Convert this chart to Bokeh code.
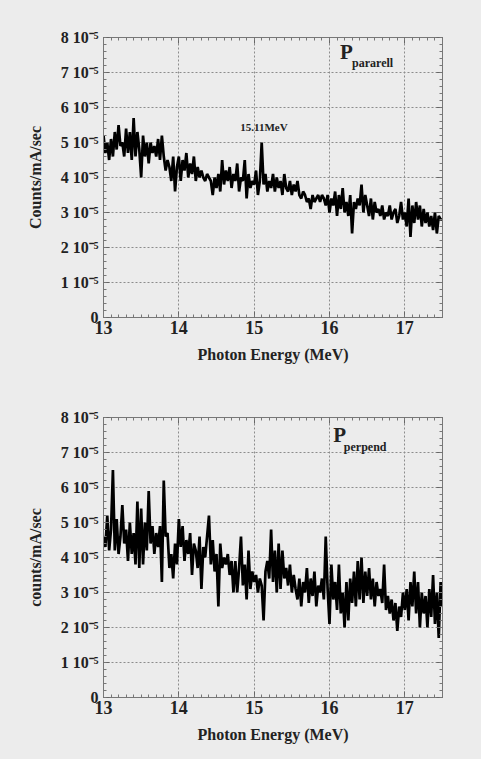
import numpy as np
from bokeh.plotting import figure
from bokeh.layouts import column
from bokeh.models import (Range1d, FixedTicker, LinearAxis, Label, ColumnDataSource,
                          CustomJSTickFormatter)
from bokeh.embed import file_html
from bokeh.resources import INLINE

# Photon energy bins (MeV), 0.025 MeV steps from 13.0 to 17.5
energy = np.round(13.0 + 0.025 * np.arange(181), 3)

# Counts/mA/sec in units of 1e-5
p_parallel = [
    5.2, 4.7, 5.0, 4.5, 5.1, 4.6, 5.3, 4.8, 5.5, 4.9,
    5.0, 4.6, 5.4, 4.7, 5.3, 4.5, 5.7, 4.6, 5.3, 4.8,
    4.0, 5.2, 4.6, 5.0, 4.4, 5.0, 4.7, 4.9, 4.6, 5.1,
    4.5, 5.2, 4.6, 4.2, 4.5, 4.3, 3.9, 4.6, 3.6, 4.3,
    4.6, 3.9, 4.5, 4.2, 4.7, 4.0, 4.4, 4.1, 4.6, 3.9,
    4.3, 4.0, 4.2, 4.0, 3.9, 4.1, 4.0, 3.9, 3.5, 4.0,
    3.7, 4.1, 3.6, 4.5, 3.8, 4.2, 3.9, 4.3, 3.7, 4.1,
    3.9, 4.4, 3.6, 4.0, 3.9, 4.5, 3.4, 4.1, 3.7, 3.9,
    3.8, 4.2, 3.5, 3.9, 5.0, 3.8, 4.1, 3.6, 3.9, 3.7,
    4.1, 3.6, 4.0, 3.7, 3.9, 3.5, 4.1, 3.7, 3.6, 3.9,
    3.5, 3.8, 3.6, 3.9, 3.5, 3.4, 3.6, 3.5, 3.3, 3.4,
    3.1, 3.5, 3.3, 3.4, 3.5, 3.3, 3.5, 3.4, 3.2, 3.5,
    3.0, 3.4, 3.2, 3.6, 2.9, 3.5, 3.1, 3.7, 3.0, 3.3,
    2.9, 3.5, 2.4, 3.3, 3.1, 3.4, 3.2, 3.8, 3.0, 3.5,
    3.2, 2.9, 3.4, 2.8, 3.3, 3.0, 3.1, 2.9, 3.2, 2.8,
    3.0, 2.9, 3.2, 2.8, 3.0, 3.1, 2.7, 2.9, 3.3, 2.8,
    3.0, 2.6, 3.4, 2.3, 3.2, 2.7, 3.3, 2.8, 3.2, 2.6,
    3.1, 2.7, 3.0, 2.6, 2.9, 2.5, 3.0, 2.4, 2.9, 2.8,
    2.8,
]

p_perpend = [
    4.6, 4.3, 5.2, 4.2, 4.8, 6.5, 4.2, 5.1, 4.1, 4.6,
    5.5, 4.4, 4.8, 3.9, 5.0, 4.1, 4.7, 3.8, 5.6, 3.7,
    5.4, 3.8, 5.0, 4.2, 5.9, 4.4, 4.9, 4.1, 4.7, 4.3,
    4.9, 3.3, 6.2, 4.6, 4.7, 3.7, 4.1, 3.4, 4.4, 3.8,
    5.1, 4.3, 4.9, 3.9, 4.5, 4.1, 4.7, 3.5, 4.4, 4.2,
    3.7, 4.6, 3.1, 4.3, 4.0, 4.6, 5.2, 3.8, 4.5, 3.6,
    4.1, 2.6, 4.4, 3.7, 4.0, 3.8, 4.1, 3.5, 3.9, 3.0,
    3.9, 3.0, 3.7, 4.6, 3.2, 3.8, 2.8, 4.2, 3.1, 3.6,
    3.3, 3.5, 3.0, 3.4, 3.2, 2.2, 3.6, 3.9, 3.4, 4.8,
    3.3, 4.2, 3.0, 4.4, 3.1, 4.2, 3.4, 3.7, 3.2, 3.8,
    3.0, 3.5, 3.1, 2.8, 3.4, 2.6, 3.3, 3.0, 3.7, 2.7,
    3.4, 2.9, 3.6, 2.6, 3.2, 3.0, 3.4, 2.8, 4.6, 3.1,
    2.1, 3.8, 2.8, 3.3, 2.5, 3.8, 2.4, 3.0, 2.0, 3.3,
    2.2, 3.4, 2.7, 3.6, 2.6, 3.9, 2.8, 4.0, 2.7, 3.6,
    2.9, 3.7, 2.8, 3.4, 2.6, 3.3, 2.9, 3.1, 2.7, 3.8,
    2.5, 2.9, 2.4, 2.8, 2.2, 2.7, 1.9, 2.6, 2.3, 3.0,
    2.5, 3.1, 2.2, 3.3, 2.6, 3.6, 2.4, 3.3, 2.0, 3.0,
    2.4, 2.9, 2.0, 3.1, 2.3, 3.5, 2.1, 3.0, 1.7, 3.3,
    2.6,
]

x_ticks = [13, 14, 15, 16, 17]
y_ticks = [0, 1, 2, 3, 4, 5, 6, 7, 8]
y_tick_labels = {0: "0", 1: "1 10⁻⁵", 2: "2 10⁻⁵", 3: "3 10⁻⁵", 4: "4 10⁻⁵",
                 5: "5 10⁻⁵", 6: "6 10⁻⁵", 7: "7 10⁻⁵", 8: "8 10⁻⁵"}

FONT = "Liberation Serif"
BG = "#ececec"

x_minor = [13 + 0.1 * i for i in range(46)]
y_minor = [0.2 * i for i in range(41)]


def style_axis(ax, ticker, labels=True):
    ax.ticker = ticker
    ax.axis_line_color = "#777777"
    ax.axis_line_width = 1
    ax.major_tick_in = 6
    ax.major_tick_out = 0
    ax.minor_tick_in = 3
    ax.minor_tick_out = 0
    ax.major_tick_line_color = "#666666"
    ax.minor_tick_line_color = "#777777"
    if not labels:
        ax.formatter = CustomJSTickFormatter(code="return ''")
        ax.major_label_standoff = 0


def make_plot(yvals, ylabel, sub, top_border, bottom_border, px, py, sx, sy, peak_label=None):
    p = figure(frame_width=339, frame_height=280,
               x_range=Range1d(13, 17.5), y_range=Range1d(0, 8),
               output_backend="svg", toolbar_location=None,
               min_border_left=103, min_border_right=39,
               min_border_top=top_border, min_border_bottom=bottom_border,
               background_fill_color=BG, border_fill_color=BG,
               outline_line_color="#777777")
    src = ColumnDataSource(dict(x=energy, y=yvals))
    p.line("x", "y", source=src, line_color="black", line_width=2.7)

    xt = FixedTicker(ticks=x_ticks, minor_ticks=x_minor)
    yt = FixedTicker(ticks=y_ticks, minor_ticks=y_minor)
    style_axis(p.xaxis[0], xt)
    style_axis(p.yaxis[0], yt)
    p.xaxis.major_label_text_font = FONT
    p.xaxis.major_label_text_font_style = "bold"
    p.xaxis.major_label_text_font_size = "18px"
    p.xaxis.major_label_text_color = "#222222"
    p.xaxis.major_label_standoff = 3
    p.xaxis.axis_label = "Photon Energy (MeV)"
    p.xaxis.axis_label_text_font = FONT
    p.xaxis.axis_label_text_font_style = "bold"
    p.xaxis.axis_label_text_font_size = "16px"
    p.xaxis.axis_label_text_color = "#222222"
    p.xaxis.axis_label_standoff = 9

    p.yaxis.major_label_overrides = y_tick_labels
    p.yaxis.major_label_text_font = FONT
    p.yaxis.major_label_text_font_style = "bold"
    p.yaxis.major_label_text_font_size = "16px"
    p.yaxis.major_label_text_color = "#222222"
    p.yaxis.major_label_standoff = 5
    p.yaxis.axis_label = ylabel
    p.yaxis.axis_label_text_font = FONT
    p.yaxis.axis_label_text_font_style = "bold"
    p.yaxis.axis_label_text_font_size = "16px"
    p.yaxis.axis_label_text_color = "#222222"
    p.yaxis.axis_label_standoff = 14

    right = LinearAxis()
    style_axis(right, FixedTicker(ticks=y_ticks, minor_ticks=y_minor), labels=False)
    p.add_layout(right, "right")
    above = LinearAxis()
    style_axis(above, FixedTicker(ticks=x_ticks, minor_ticks=x_minor), labels=False)
    p.add_layout(above, "above")

    p.xgrid.ticker = FixedTicker(ticks=[14, 15, 16, 17])
    p.ygrid.ticker = FixedTicker(ticks=[1, 2, 3, 4, 5, 6, 7])
    for g in (p.xgrid, p.ygrid):
        g.grid_line_color = "#8c8c8c"
        g.grid_line_dash = "2 2"
        g.grid_line_width = 1

    p.add_layout(Label(x=px, y=py, text="P", text_font=FONT, text_font_style="bold",
                       text_font_size="21px", text_color="#222222",
                       text_align="left", text_baseline="middle"))
    p.add_layout(Label(x=sx, y=sy, text=sub, text_font=FONT, text_font_style="bold",
                       text_font_size="12px", text_color="#222222",
                       text_align="left", text_baseline="middle"))
    if peak_label is not None:
        p.add_layout(Label(x=peak_label[0], y=peak_label[1], text=peak_label[2],
                           text_font=FONT, text_font_style="bold", text_font_size="11px",
                           text_color="#222222", text_align="center", text_baseline="middle"))
    return p


p1 = make_plot(p_parallel, "Counts/mA/sec", "pararell", 37, 63,
               16.14, 7.6, 16.3, 7.28, peak_label=(15.13, 5.45, "15.11MeV"))
p2 = make_plot(p_perpend, "counts/mA/sec", "perpend", 37, 62,
               16.05, 7.5, 16.19, 7.17)

layout = column(p1, p2, spacing=0, background=BG)
open("out.html", "w").write(file_html(layout, INLINE))
